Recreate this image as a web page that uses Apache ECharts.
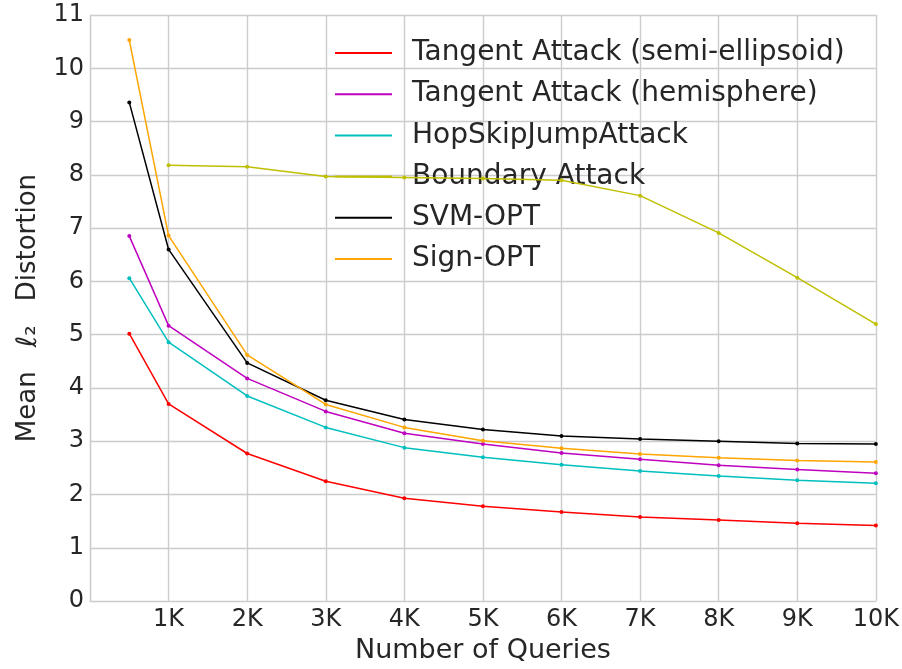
<!DOCTYPE html>
<html>
<head>
<meta charset="utf-8">
<script src="https://cdn.jsdelivr.net/npm/echarts@6/dist/echarts.min.js"></script>
<style>html,body{margin:0;padding:0;background:#fff;}#c{width:902px;height:669px;}</style>
</head>
<body>
<div id="c"></div>
<script>
const queries = [500, 1000, 2000, 3000, 4000, 5000, 6000, 7000, 8000, 9000, 10000];
const boundaryQueries = [1000, 2000, 3000, 4000, 5000, 6000, 7000, 8000, 9000, 10000];
const seriesNames = ['Tangent Attack (semi-ellipsoid)', 'Tangent Attack (hemisphere)', 'HopSkipJumpAttack', 'Boundary Attack', 'SVM-OPT', 'Sign-OPT'];
const tangentEllipsoid = [5.02, 3.70, 2.77, 2.25, 1.93, 1.78, 1.67, 1.58, 1.52, 1.46, 1.42];
const tangentHemisphere = [6.85, 5.17, 4.18, 3.56, 3.15, 2.95, 2.78, 2.66, 2.55, 2.47, 2.40];
const hopSkipJump = [6.06, 4.86, 3.85, 3.26, 2.88, 2.70, 2.56, 2.44, 2.35, 2.27, 2.21];
const boundaryAttack = [8.18, 8.15, 7.97, 7.95, 7.93, 7.90, 7.61, 6.91, 6.07, 5.20];
const svmOpt = [9.36, 6.60, 4.47, 3.77, 3.41, 3.22, 3.10, 3.04, 3.00, 2.96, 2.95];
const signOpt = [10.53, 6.86, 4.62, 3.69, 3.26, 3.01, 2.87, 2.76, 2.69, 2.64, 2.61];
const colors = ['#ff0000', '#bf00bf', '#00bfbf', '#bfbf00', '#000000', '#ffa500'];

const pair = (xs, ys) => xs.map((x, i) => [x, ys[i]]);
const dataSets = [
  pair(queries, tangentEllipsoid),
  pair(queries, tangentHemisphere),
  pair(queries, hopSkipJump),
  pair(boundaryQueries, boundaryAttack),
  pair(queries, svmOpt),
  pair(queries, signOpt)
];

const chart = echarts.init(document.getElementById('c'), null, {renderer: 'canvas'});
const textColor = '#262626';
chart.setOption({
  animation: false,
  backgroundColor: '#ffffff',
  grid: {left: 90, right: 26, top: 15, bottom: 64, containLabel: false},
  legend: {
    orient: 'vertical',
    left: 330,
    top: 33,
    itemWidth: 57,
    itemHeight: 2,
    itemGap: 11.2,
    icon: 'rect',
    data: seriesNames,
    textStyle: {fontFamily: 'DejaVu Sans', fontSize: 28, color: textColor, lineHeight: 30, padding: [0, 0, 0, 15]}
  },
  xAxis: {
    type: 'value', min: 0, max: 10000, interval: 1000,
    name: 'Number of Queries', nameLocation: 'middle', nameGap: 35,
    nameTextStyle: {fontFamily: 'DejaVu Sans', fontSize: 27, color: textColor},
    axisLine: {show: true, lineStyle: {color: '#cccccc', width: 1.2}},
    axisTick: {show: false},
    axisLabel: {fontFamily: 'DejaVu Sans', fontSize: 24, color: textColor, margin: 7,
      formatter: v => v === 0 ? '' : (v / 1000) + 'K'},
    splitLine: {show: true, lineStyle: {color: '#cccccc', width: 1.4}}
  },
  yAxis: {
    type: 'value', min: 0, max: 11, interval: 1,
    name: 'Mean{gap|}{l|\u2113}{s|\u2082}{gap|}Distortion', nameLocation: 'middle', nameGap: 47,
    nameTextStyle: {fontFamily: 'DejaVu Sans', fontSize: 26, color: textColor,
      rich: {
        gap: {width: 24, fontSize: 26},
        l: {fontFamily: 'DejaVu Sans', fontStyle: 'italic', fontSize: 28, color: textColor},
        s: {fontFamily: 'DejaVu Sans', fontSize: 26, color: textColor}
      }},
    axisLine: {show: true, lineStyle: {color: '#cccccc', width: 1.2}},
    axisTick: {show: false},
    axisLabel: {fontFamily: 'DejaVu Sans', fontSize: 24, color: textColor, margin: 6},
    splitLine: {show: true, lineStyle: {color: '#cccccc', width: 1.4}}
  },
  series: seriesNames.map((n, i) => ({
    name: n,
    type: 'line',
    data: dataSets[i],
    color: colors[i],
    symbol: 'circle',
    symbolSize: 4,
    showSymbol: true,
    lineStyle: {width: 1.5, color: colors[i]},
    itemStyle: {color: colors[i]},
    z: 2 + i
  }))
});
</script>
</body>
</html>
